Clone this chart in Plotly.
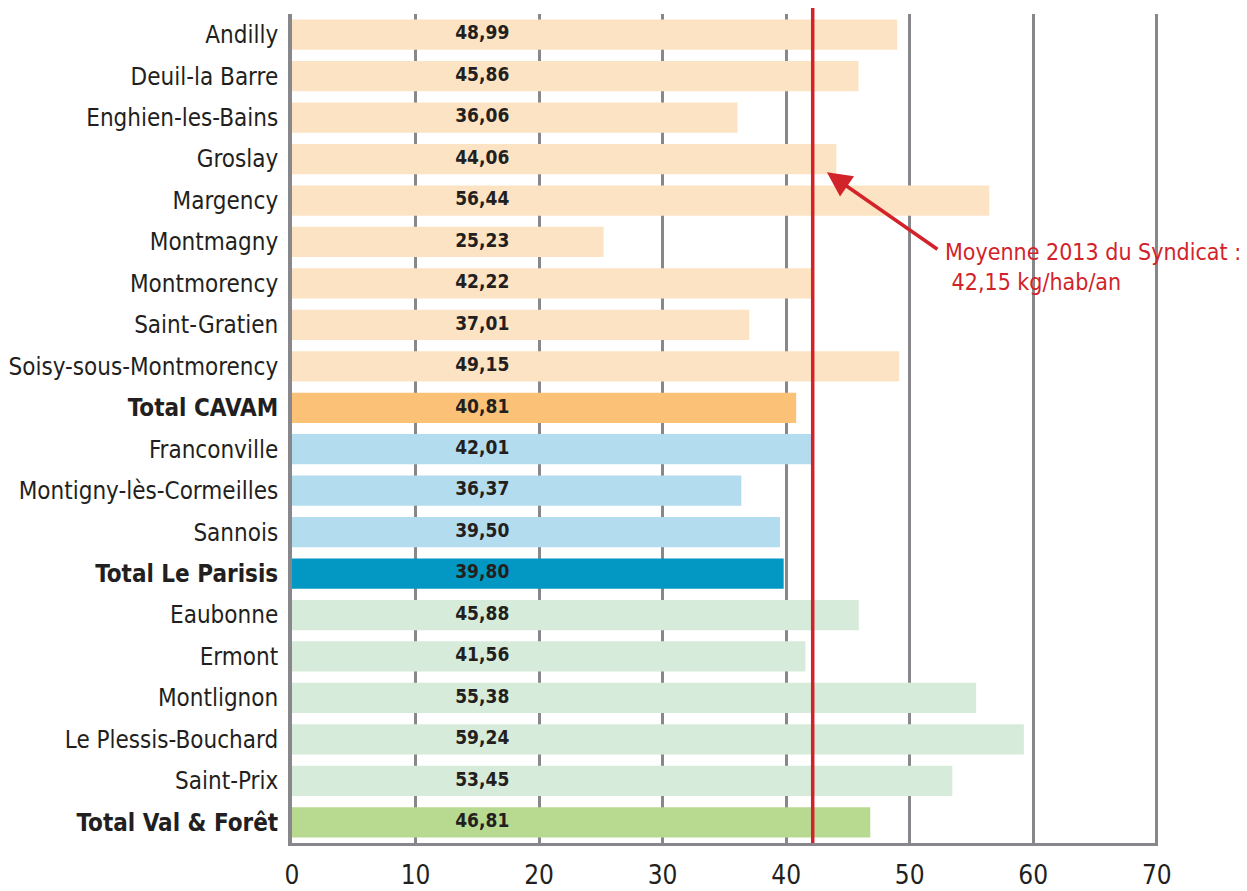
import plotly.graph_objects as go

# communes / groupements, top to bottom
communes = [
    "Andilly", "Deuil-la Barre", "Enghien-les-Bains", "Groslay", "Margency",
    "Montmagny", "Montmorency", "Saint-Gratien", "Soisy-sous-Montmorency",
    "Total CAVAM", "Franconville", "Montigny-lès-Cormeilles", "Sannois",
    "Total Le Parisis", "Eaubonne", "Ermont", "Montlignon",
    "Le Plessis-Bouchard", "Saint-Prix", "Total Val & Forêt",
]
kg_hab = [
    48.99, 45.86, 36.06, 44.06, 56.44, 25.23, 42.22, 37.01, 49.15,
    40.81, 42.01, 36.37, 39.50, 39.80, 45.88, 41.56, 55.38, 59.24,
    53.45, 46.81,
]
groupe = [
    "cavam", "cavam", "cavam", "cavam", "cavam", "cavam", "cavam", "cavam",
    "cavam", "cavam_total", "parisis", "parisis", "parisis", "parisis_total",
    "valforet", "valforet", "valforet", "valforet", "valforet",
    "valforet_total",
]
moyenne_syndicat = 42.15
x_ticks = [0, 10, 20, 30, 40, 50, 60, 70]

couleurs = {
    "cavam": "#fce3c3",
    "cavam_total": "#fbc277",
    "parisis": "#b3dcef",
    "parisis_total": "#0398c4",
    "valforet": "#d6ebd9",
    "valforet_total": "#b8da90",
}

FONT = "Liberation Sans Narrow, DejaVu Sans Condensed, sans-serif"
INK = "#231f20"
GRIS = "#88888c"
ROUGE = "#d2232a"
LABEL_X = 15.4

ticktext = [f"<b>{c}</b>" if c.startswith("Total") else c for c in communes]
etiquettes = [f"{v:.2f}".replace(".", ",") for v in kg_hab]

fig = go.Figure()
fig.add_trace(go.Bar(
    x=kg_hab,
    y=communes,
    orientation="h",
    marker=dict(color=[couleurs[g] for g in groupe], line=dict(width=0)),
    hoverinfo="x+y",
))
fig.add_trace(go.Scatter(
    x=[LABEL_X] * len(communes),
    y=communes,
    mode="text",
    text=[f"<b>{e}</b>" for e in etiquettes],
    textfont=dict(family=FONT, size=19, color=INK),
    hoverinfo="skip",
))

# moyenne du syndicat
fig.add_shape(
    type="line", xref="x", yref="paper",
    x0=moyenne_syndicat, x1=moyenne_syndicat, y0=0, y1=1.008,
    line=dict(color=ROUGE, width=3.5), layer="above",
)
fig.add_annotation(
    x=43.3, y=3.32, xref="x", yref="y",
    text="", showarrow=True,
    arrowhead=2, arrowsize=1.4, arrowwidth=3.5, arrowcolor=ROUGE,
    ax=112, ay=78,
)
fig.add_annotation(
    x=52.7, y=5.6, xref="x", yref="y",
    text="Moyenne 2013 du Syndicat :<br> 42,15 kg/hab/an",
    showarrow=False, xanchor="left", yanchor="middle", align="left",
    font=dict(family=FONT, size=23, color=ROUGE),
)

# page body adds an 8px offset: size the figure to fit the window
fig.update_layout(
    width=1239, height=883,
    margin=dict(l=284, r=89, t=6, b=48),
    paper_bgcolor="white", plot_bgcolor="white",
    showlegend=False,
    bargap=0.27,
    font=dict(family=FONT, color=INK),
)
fig.update_xaxes(
    range=[0, 70.1],
    tickvals=x_ticks,
    ticks="", showgrid=True, gridcolor=GRIS, gridwidth=3,
    zeroline=False,
    showline=True, linecolor=GRIS, linewidth=3,
    tickfont=dict(family=FONT, size=26, color=INK),
    ticklabelstandoff=7,
    automargin=False,
)
fig.update_yaxes(
    range=[len(communes) - 0.5, -0.5],
    tickvals=communes, ticktext=ticktext,
    showgrid=False, zeroline=False,
    showline=True, linecolor=GRIS, linewidth=4,
    tickfont=dict(family=FONT, size=24, color=INK),
    ticklabelstandoff=5,
    automargin=False,
)

fig.write_html("out.html")
